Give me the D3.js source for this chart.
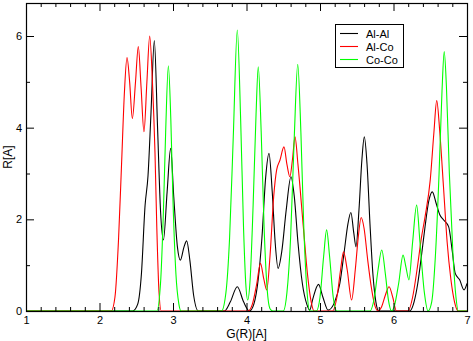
<!DOCTYPE html>
<html>
<head>
<meta charset="utf-8">
<script src="https://cdn.jsdelivr.net/npm/d3@7"></script>
<style>
  body { margin: 0; background: #fff; }
  #chart { width: 473px; height: 341px; }
  text { font-family: "Liberation Sans", "DejaVu Sans", sans-serif; }
</style>
</head>
<body>
<div id="chart"></div>
<script>
// values
const alAlX = [1.0, 2.45, 2.52, 2.57, 2.62, 2.66, 2.70, 2.746, 2.79, 2.83, 2.87, 2.92, 2.968, 3.01, 3.06, 3.10, 3.15, 3.186, 3.23, 3.28, 3.345,
  3.70, 3.78, 3.875, 3.96, 4.04, 4.10, 4.16, 4.21, 4.26, 4.306, 4.35, 4.39, 4.43, 4.48, 4.54, 4.605, 4.65, 4.70, 4.76, 4.82, 4.86,
  4.90, 4.98, 5.04, 5.11, 5.20, 5.27, 5.33, 5.38, 5.42, 5.46, 5.49, 5.53, 5.57, 5.603, 5.64, 5.68, 5.72, 5.76, 5.80,
  6.22, 6.28, 6.33, 6.38, 6.43, 6.48, 6.528, 6.58, 6.63, 6.68, 6.75, 6.80, 6.84, 6.90, 6.96, 7.0];
const alAlY = [0, 0, 0.15, 0.8, 2.3, 2.95, 4.3, 5.9, 4.0, 2.2, 1.55, 2.6, 3.55, 2.5, 1.4, 1.11, 1.4, 1.53, 1.1, 0.35, 0,
  0, 0.2, 0.53, 0.2, 0, 0.15, 0.7, 1.6, 2.9, 3.44, 2.6, 1.5, 0.93, 1.3, 2.2, 2.93, 2.5, 1.5, 0.6, 0.15, 0.02,
  0.25, 0.58, 0.3, 0.02, 0.2, 0.6, 1.3, 1.9, 2.15, 1.7, 1.40, 2.2, 3.3, 3.80, 3.2, 1.9, 0.8, 0.2, 0,
  0, 0.2, 0.6, 1.2, 1.85, 2.4, 2.6, 2.35, 2.1, 1.99, 1.84, 1.3, 0.82, 0.68, 0.46, 0.60];

const alCoX = [1.0, 2.16, 2.21, 2.26, 2.30, 2.34, 2.374, 2.41, 2.447, 2.49, 2.528, 2.565, 2.605, 2.645, 2.683, 2.72, 2.755, 2.78, 2.81, 2.84,
  4.02, 4.08, 4.14, 4.19, 4.235, 4.275, 4.32, 4.37, 4.41, 4.455, 4.51, 4.55, 4.59, 4.625, 4.66, 4.70, 4.773, 4.83, 4.88, 4.92,
  5.17, 5.23, 5.28, 5.32, 5.37, 5.43, 5.48, 5.52, 5.56, 5.60, 5.65, 5.70, 5.75, 5.79, 5.84, 5.89, 5.94, 5.99, 6.04,
  6.20, 6.26, 6.32, 6.38, 6.43, 6.50, 6.55, 6.588, 6.63, 6.68, 6.73, 6.78, 6.83, 6.88, 7.0];
const alCoY = [0, 0, 0.3, 1.6, 3.2, 4.8, 5.53, 5.0, 4.20, 5.0, 5.77, 4.9, 3.91, 5.0, 6.0, 5.0, 3.45, 1.8, 0.4, 0,
  0, 0.15, 0.6, 1.04, 0.7, 0.46, 1.2, 2.5, 3.08, 3.29, 3.58, 3.2, 2.93, 3.3, 3.8, 3.2, 1.84, 0.8, 0.2, 0,
  0, 0.3, 0.9, 1.29, 0.9, 0.24, 0.9, 1.6, 2.04, 1.8, 1.1, 0.5, 0.1, 0, 0.1, 0.35, 0.53, 0.3, 0,
  0, 0.3, 0.9, 1.6, 2.06, 2.86, 3.9, 4.59, 3.9, 2.71, 1.5, 0.7, 0.2, 0, 0];

const coCoX = [1.0, 2.78, 2.83, 2.87, 2.90, 2.937, 2.97, 3.00, 3.04, 3.08, 3.11,
  3.66, 3.72, 3.77, 3.82, 3.875, 3.92, 3.96, 3.99, 4.016, 4.05, 4.09, 4.13, 4.16, 4.20, 4.24, 4.28, 4.32, 4.36,
  4.50, 4.55, 4.60, 4.65, 4.697, 4.74, 4.78, 4.82, 4.86, 4.95, 5.00, 5.05, 5.09, 5.13, 5.18, 5.23,
  5.68, 5.74, 5.79, 5.84, 5.89, 5.93, 5.975, 6.01, 6.07, 6.13, 6.17, 6.21, 6.26, 6.315, 6.36, 6.42, 6.47,
  6.52, 6.57, 6.62, 6.66, 6.69, 6.72, 6.76, 6.81, 6.85, 6.88, 7.0];
const coCoY = [0, 0, 0.6, 2.2, 3.9, 5.35, 4.2, 2.4, 0.8, 0.15, 0,
  0, 0.4, 1.6, 3.8, 6.13, 4.2, 1.8, 0.6, 0.24, 0.7, 2.3, 4.3, 5.33, 3.9, 1.8, 0.5, 0.05, 0,
  0, 0.4, 1.6, 3.8, 5.38, 3.9, 1.8, 0.5, 0, 0, 0.3, 1.2, 1.77, 1.2, 0.3, 0,
  0, 0.3, 0.9, 1.33, 0.8, 0.25, 0, 0.1, 0.6, 1.22, 0.95, 0.68, 1.5, 2.31, 1.5, 0.4, 0,
  0.2, 1.2, 3.0, 4.8, 5.66, 4.9, 3.0, 1.2, 0.3, 0, 0];

const seriesNames = ["Al-Al", "Al-Co", "Co-Co"];
const seriesColors = ["#000000", "#ff0000", "#00ff00"];
const xMajor = [1, 2, 3, 4, 5, 6, 7];
const yMajor = [0, 2, 4, 6];

const W = 473, H = 341;
const plotL = 26, plotR = 467, plotT = 3, plotB = 311;

const svg = d3.select("#chart").append("svg")
  .attr("width", W).attr("height", H);

const x = d3.scaleLinear().domain([1, 7]).range([plotL, plotR]);
const y = d3.scaleLinear().domain([0, 6.72]).range([plotB, plotT]);

const xMinor = d3.range(1, 7.001, 0.2).map(v => +v.toFixed(1)).filter(v => !xMajor.includes(v));
const yMinor = [1, 3, 5];

const data = [
  d3.zip(alAlX, alAlY),
  d3.zip(alCoX, alCoY),
  d3.zip(coCoX, coCoY)
];

const line = d3.line()
  .x(d => x(d[0]))
  .y(d => y(d[1]))
  .curve(d3.curveMonotoneX);

svg.append("defs").append("clipPath").attr("id", "clip")
  .append("rect").attr("x", plotL).attr("y", plotT)
  .attr("width", plotR - plotL).attr("height", plotB - plotT);

svg.append("g").attr("clip-path", "url(#clip)")
  .selectAll("path")
  .data(data)
  .enter()
  .append("path")
  .attr("d", line)
  .attr("fill", "none")
  .attr("stroke", (d, i) => seriesColors[i])
  .attr("stroke-width", 1.1);

// axes with inward ticks on all four sides
function styleAxis(g) {
  g.select(".domain").remove();
  g.selectAll("line").attr("stroke", "#000");
  g.selectAll("text").attr("font-size", 11).attr("fill", "#000");
}

svg.append("g").attr("transform", `translate(0,${plotB})`)
  .call(d3.axisBottom(x).tickValues(xMajor).tickSize(-8).tickPadding(5).tickFormat(d3.format("d")))
  .call(styleAxis);
svg.append("g").attr("transform", `translate(0,${plotB})`)
  .call(d3.axisBottom(x).tickValues(xMinor).tickSize(-4).tickFormat(""))
  .call(styleAxis);
svg.append("g").attr("transform", `translate(0,${plotT})`)
  .call(d3.axisTop(x).tickValues(xMajor).tickSize(-8).tickFormat(""))
  .call(styleAxis);
svg.append("g").attr("transform", `translate(0,${plotT})`)
  .call(d3.axisTop(x).tickValues(xMinor).tickSize(-4).tickFormat(""))
  .call(styleAxis);

svg.append("g").attr("transform", `translate(${plotL},0)`)
  .call(d3.axisLeft(y).tickValues(yMajor).tickSize(-8).tickPadding(4).tickFormat(d3.format("d")))
  .call(styleAxis);
svg.append("g").attr("transform", `translate(${plotL},0)`)
  .call(d3.axisLeft(y).tickValues(yMinor).tickSize(-4).tickFormat(""))
  .call(styleAxis);
svg.append("g").attr("transform", `translate(${plotR},0)`)
  .call(d3.axisRight(y).tickValues(yMajor).tickSize(-8).tickFormat(""))
  .call(styleAxis);
svg.append("g").attr("transform", `translate(${plotR},0)`)
  .call(d3.axisRight(y).tickValues(yMinor).tickSize(-4).tickFormat(""))
  .call(styleAxis);

svg.append("rect")
  .attr("x", plotL + 0.5).attr("y", plotT + 0.5)
  .attr("width", plotR - plotL).attr("height", plotB - plotT)
  .attr("fill", "none").attr("stroke", "#000").attr("stroke-width", 1.2);

svg.append("text")
  .attr("x", (plotL + plotR) / 2).attr("y", 338)
  .attr("text-anchor", "middle").attr("font-size", 12)
  .text("G(R)[A]");

svg.append("text")
  .attr("transform", `translate(12,${(plotT + plotB) / 2}) rotate(-90)`)
  .attr("text-anchor", "middle").attr("font-size", 12)
  .text("R[A]");

// legend
const legend = svg.append("g");
legend.append("rect")
  .attr("x", 335.5).attr("y", 24.5).attr("width", 68).attr("height", 43)
  .attr("fill", "#fff").attr("stroke", "#000");
seriesNames.forEach((name, i) => {
  const ly = 33.5 + i * 13;
  legend.append("line")
    .attr("x1", 340).attr("x2", 358).attr("y1", ly).attr("y2", ly)
    .attr("stroke", seriesColors[i]).attr("stroke-width", 1.1);
  legend.append("text")
    .attr("x", 366).attr("y", ly + 4)
    .attr("font-size", 11)
    .text(name);
});
</script>
</body>
</html>
